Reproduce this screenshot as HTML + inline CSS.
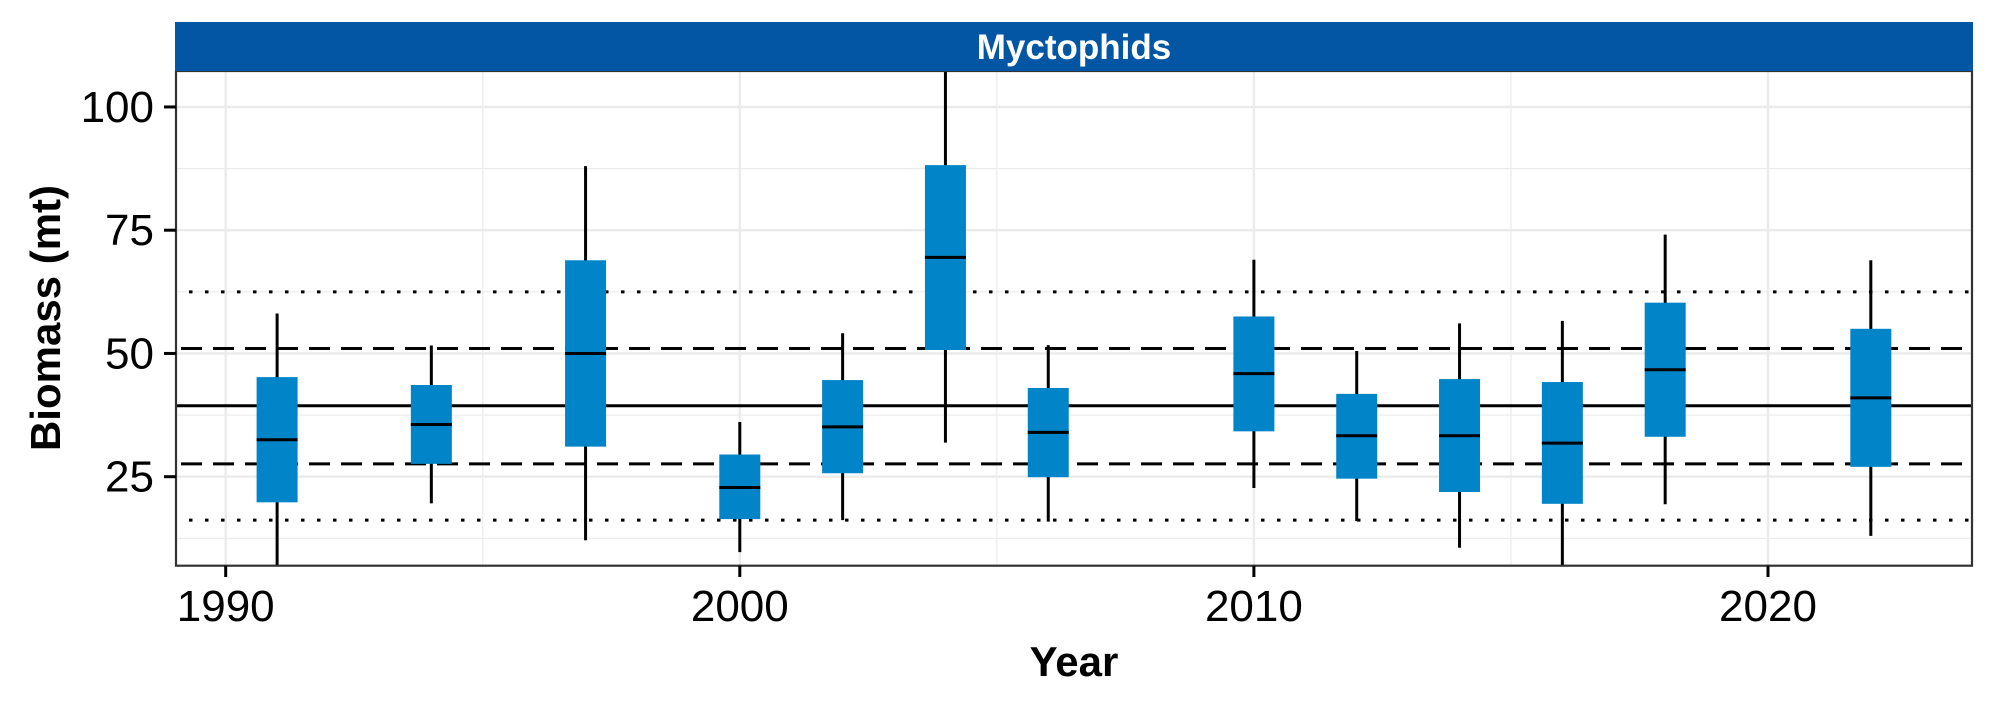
<!DOCTYPE html>
<html><head><meta charset="utf-8"><style>
html,body{margin:0;padding:0;background:#fff;}
svg{display:block;font-family:"Liberation Sans",Arial,sans-serif;}
</style></head><body>
<svg id="chart" width="1996" height="708" viewBox="0 0 1996 708" xmlns="http://www.w3.org/2000/svg">
<g id="grid"></g>
<g id="refs"></g>
<g id="boxes"></g>
<rect x="176" y="71" width="1796" height="494.7" fill="none" stroke="#333" stroke-width="2.2"/>
<rect x="175" y="22" width="1798" height="49" fill="#0256a4"/>
<text x="1074" y="59" text-anchor="middle" font-size="35" font-weight="bold" fill="#fff">Myctophids</text>
<g id="axes"></g>
<text x="1074" y="676" text-anchor="middle" font-size="42" font-weight="bold">Year</text>
<text transform="translate(60,318) rotate(-90)" text-anchor="middle" font-size="42" font-weight="bold">Biomass (mt)</text>
</svg>
<script>
const years = [1991,1994,1997,2000,2002,2004,2006,2010,2012,2014,2016,2018,2022];
const whiskerLow = [5,19.6,12.1,9.7,16.2,31.9,15.9,22.7,16.0,10.6,5,19.4,13.0];
const boxLow = [19.8,27.6,31.1,16.4,25.7,50.7,24.9,34.2,24.6,21.9,19.5,33.1,27.0];
const medians = [32.5,35.6,50.0,22.8,35.1,69.5,34.0,45.9,33.3,33.3,31.8,46.7,41.0];
const boxHigh = [45.2,43.6,68.9,29.5,44.6,88.2,43.0,57.5,41.8,44.8,44.2,60.3,55.0];
const whiskerHigh = [58.1,51.6,88.0,36.1,54.1,115,51.7,69.0,50.5,56.1,56.6,74.1,68.9];
const yTicks = [25,50,75,100];
const yMinor = [12.5,37.5,62.5,87.5];
const xTicks = [1990,2000,2010,2020];
const xMinor = [1995,2005,2015];
const refMean = [39.4];
const refDashed = [27.6,51.0];
const refDotted = [16.2,62.5];

const PX0=176, PX1=1972, PY0=71, PY1=565.7;
const X = y => 225.7 + (y-1990)*51.41;
const Y = v => 476.7 - (v-25)*4.93;
const clampY = y => Math.max(PY0, Math.min(PY1, y));
const NS='http://www.w3.org/2000/svg';
function mk(parent, tag, attrs){const e=document.createElementNS(NS,tag);for(const k in attrs)e.setAttribute(k,attrs[k]);parent.appendChild(e);return e;}
const grid=document.getElementById('grid'), refs=document.getElementById('refs'), boxes=document.getElementById('boxes'), axes=document.getElementById('axes');

mk(grid,'rect',{x:PX0,y:PY0,width:PX1-PX0,height:PY1-PY0,fill:'#fff'});
yMinor.forEach(v=>{const l=mk(grid,'line',{x1:PX0,x2:PX1,y1:Y(v),y2:Y(v),stroke:'#ebebeb','stroke-width':1.2});

});
xMinor.forEach(v=>{const l=mk(grid,'line',{x1:X(v),x2:X(v),y1:PY0,y2:PY1,stroke:'#ebebeb','stroke-width':1.2});

});
yTicks.forEach(v=>{const l=mk(grid,'line',{x1:PX0,x2:PX1,y1:Y(v),y2:Y(v),stroke:'#ebebeb','stroke-width':2.4});

});
xTicks.forEach(v=>{const l=mk(grid,'line',{x1:X(v),x2:X(v),y1:PY0,y2:PY1,stroke:'#ebebeb','stroke-width':2.4});

});

refMean.forEach(v=>{const l=mk(refs,'line',{x1:PX0,x2:PX1,y1:Y(v),y2:Y(v),stroke:'#000','stroke-width':3});

});
refDashed.forEach(v=>{const l=mk(refs,'line',{x1:PX0,x2:PX1,y1:Y(v),y2:Y(v),stroke:'#000','stroke-width':3,'stroke-dasharray':'21 11','stroke-dashoffset':'-5'});

});
refDotted.forEach(v=>{const l=mk(refs,'line',{x1:PX0,x2:PX1,y1:Y(v),y2:Y(v),stroke:'#000','stroke-width':3,'stroke-dasharray':'3.5 12.5','stroke-dashoffset':'-13'});

});

years.forEach((yr,i)=>{
  const cx=X(yr), hw=20.5;
  const g=mk(boxes,'g',{});
  
  
  const w=mk(g,'line',{x1:cx,x2:cx,y1:clampY(Y(whiskerHigh[i])),y2:clampY(Y(whiskerLow[i])),stroke:'#000','stroke-width':3});
  
  
  const r=mk(g,'rect',{x:cx-hw,y:Y(boxHigh[i]),width:2*hw,height:Y(boxLow[i])-Y(boxHigh[i]),fill:'#0284c8'});
  
  
  const m=mk(g,'line',{x1:cx-hw,x2:cx+hw,y1:Y(medians[i]),y2:Y(medians[i]),stroke:'#000','stroke-width':3});
  
  
});

yTicks.forEach(v=>{
  const t=mk(axes,'line',{x1:164,x2:176,y1:Y(v),y2:Y(v),stroke:'#000','stroke-width':3});
  
  
  const l=mk(axes,'text',{x:154,y:Y(v)+15,'text-anchor':'end','font-size':44});
  l.textContent=v;
  
  
});
xTicks.forEach(v=>{
  const t=mk(axes,'line',{x1:X(v),x2:X(v),y1:PY1,y2:577,stroke:'#000','stroke-width':3});
  
  
  const l=mk(axes,'text',{x:X(v),y:621,'text-anchor':'middle','font-size':44});
  l.textContent=v;
  
  
});
</script>
</body></html>
